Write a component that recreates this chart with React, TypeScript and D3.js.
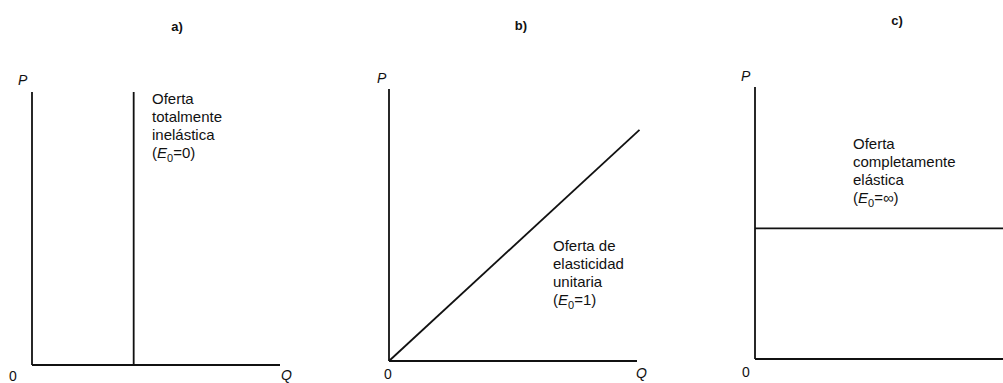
import * as d3 from "d3";

// three supply curves: a) vertical, b) through origin, c) horizontal
const panelTitles = ["a)", "b)", "c)"];
const inelasticQ = [4.1];
const unitaryPoints: [number, number][] = [[0, 0], [10.1, 8.5]];
const elasticP = [4.8];

const labelsA = ["Oferta", "totalmente", "inelástica"];
const labelsB = ["Oferta de", "elasticidad", "unitaria"];
const labelsC = ["Oferta", "completamente", "elástica"];
const elasticityValues = ["0", "1", "∞"];

const axisP = "P";
const axisQ = "Q";
const originLabel = "0";

const font = "'Liberation Sans', Arial, Helvetica, sans-serif";

function Label({ x, y, lines, e }: { x: number; y: number; lines: string[]; e: string }) {
  return (
    <text x={x} y={y} fontSize={15} fontFamily={font} fill="#111">
      {lines.map((l, i) => (
        <tspan key={i} x={x} y={y + i * 18}>{l}</tspan>
      ))}
      <tspan x={x} y={y + lines.length * 18}>(</tspan>
      <tspan fontStyle="italic">E</tspan>
      <tspan fontSize={11} dy={4}>0</tspan>
      <tspan dy={-4}>={e})</tspan>
    </text>
  );
}

export default function App() {
  // panel a
  const xa = d3.scaleLinear([0, 10], [32, 280]);
  const ya = d3.scaleLinear([0, 10], [365, 92]);
  // panel b
  const xb = d3.scaleLinear([0, 10], [389, 637]);
  const yb = d3.scaleLinear([0, 10], [361, 89]);
  const lineB = d3.line<[number, number]>((d) => xb(d[0]), (d) => yb(d[1]));
  // panel c
  const xc = d3.scaleLinear([0, 10], [755, 1003]);
  const yc = d3.scaleLinear([0, 10], [359, 87]);

  const sw = 1.8;

  return (
    <svg width={1003} height={383} style={{ position: "absolute", left: 0, top: 0, background: "#fff" }}>
      <rect width={1003} height={383} fill="#fff" />
      {/* titles */}
      <g fontFamily={font} fontWeight="bold" fontSize={13} fill="#111" textAnchor="middle">
        <text x={177} y={31}>{panelTitles[0]}</text>
        <text x={521} y={30}>{panelTitles[1]}</text>
        <text x={897} y={25}>{panelTitles[2]}</text>
      </g>

      {/* panel a */}
      <g stroke="#111" strokeWidth={sw} fill="none">
        <line x1={xa(0)} y1={ya(0)} x2={xa(0)} y2={ya(10)} />
        <line x1={xa(0)} y1={ya(0)} x2={xa(10)} y2={ya(0)} />
        {inelasticQ.map((q, i) => (
          <line key={i} x1={xa(q)} y1={ya(0)} x2={xa(q)} y2={ya(10)} />
        ))}
      </g>
      <g fontFamily={font} fontSize={14} fill="#111">
        <text x={18} y={85} fontStyle="italic">{axisP}</text>
        <text x={9} y={381}>{originLabel}</text>
        <text x={281} y={380} fontStyle="italic">{axisQ}</text>
      </g>
      <Label x={152} y={104} lines={labelsA} e={elasticityValues[0]} />

      {/* panel b */}
      <g stroke="#111" strokeWidth={sw} fill="none">
        <line x1={xb(0)} y1={yb(0)} x2={xb(0)} y2={yb(10)} />
        <line x1={xb(0)} y1={yb(0)} x2={xb(10)} y2={yb(0)} />
        <path d={lineB(unitaryPoints) ?? ""} />
      </g>
      <g fontFamily={font} fontSize={14} fill="#111">
        <text x={377} y={83} fontStyle="italic">{axisP}</text>
        <text x={384} y={379}>{originLabel}</text>
        <text x={636} y={378} fontStyle="italic">{axisQ}</text>
      </g>
      <Label x={553} y={251} lines={labelsB} e={elasticityValues[1]} />

      {/* panel c */}
      <g stroke="#111" strokeWidth={sw} fill="none">
        <line x1={xc(0)} y1={yc(0)} x2={xc(0)} y2={yc(10)} />
        <line x1={xc(0)} y1={yc(0)} x2={xc(10)} y2={yc(0)} />
        {elasticP.map((p, i) => (
          <line key={i} x1={xc(0)} y1={yc(p)} x2={xc(10)} y2={yc(p)} />
        ))}
      </g>
      <g fontFamily={font} fontSize={14} fill="#111">
        <text x={741} y={81} fontStyle="italic">{axisP}</text>
        <text x={742} y={377}>{originLabel}</text>
      </g>
      <Label x={853} y={149} lines={labelsC} e={elasticityValues[2]} />
    </svg>
  );
}
